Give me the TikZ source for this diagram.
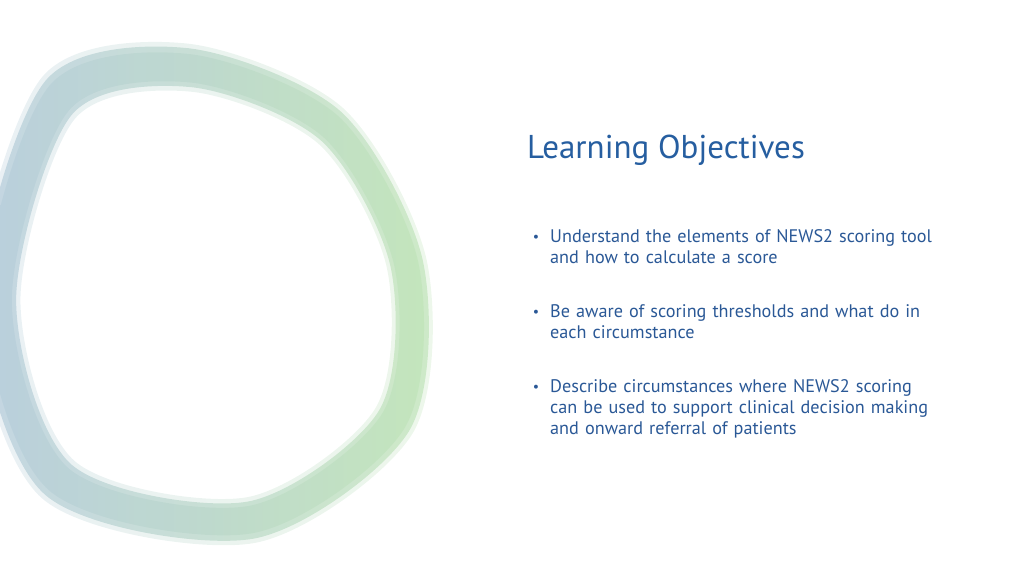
\documentclass[tikz,border=0pt]{standalone}
\usepackage{fontspec}
\setmainfont{PT Sans}
\usetikzlibrary{positioning}
\definecolor{titleblue}{RGB}{38,94,160}
\definecolor{textblue}{RGB}{42,88,150}
\definecolor{ringgreen}{RGB}{184,224,176}
\definecolor{ringblue}{RGB}{170,196,214}
\tikzset{
bullet/.style={anchor=north west,text width=420pt,align=left,font=\fontsize{18.2pt}{21pt}\selectfont,text=textblue,inner sep=0pt},
dot/.style={anchor=center,font=\fontsize{14pt}{21pt}\selectfont,text=textblue,inner sep=0pt}
}
\newcommand{\ringpath}[1]{%
plot[smooth cycle] coordinates {({215+#1*(60-215)},{576-(300+#1*(100-300))})
({215+#1*(190-215)},{576-(300+#1*(70-300))})
({215+#1*(330-215)},{576-(300+#1*(128-300))})
({215+#1*(405-215)},{576-(300+#1*(265-300))})
({215+#1*(392-215)},{576-(300+#1*(420-300))})
({215+#1*(250-215)},{576-(300+#1*(518-300))})
({215+#1*(60-215)},{576-(300+#1*(478-300))})
({215+#1*(0-215)},{576-(300+#1*(300-300))})}}
\begin{document}
\begin{tikzpicture}[x=1pt,y=1pt]
\useasboundingbox (0,0) rectangle (1024,576);
\begin{scope}
\clip (0,0) rectangle (1024,576);
% ring layers
\path[even odd rule,left color=ringblue!50!white,right color=ringgreen!50!white,opacity=0.5] \ringpath{1.115} \ringpath{0.905};
\path[even odd rule,left color=ringblue,right color=ringgreen,opacity=0.6] \ringpath{1.095} \ringpath{0.925};
\path[even odd rule,left color=ringblue!85!white,right color=ringgreen!90!white,opacity=0.7] \ringpath{1.07} \ringpath{0.945};
\end{scope}
% text
\node[anchor=west,text=titleblue,font=\fontsize{33pt}{36pt}\selectfont,inner sep=0pt] (title) at (527,426) {Learning Objectives};
\node[bullet] (b1) at (550,347) {Understand the elements of NEWS2 scoring tool\\and how to calculate a score};
\node[dot] (d1) at (536,338) {•};
\node[bullet] (b2) at (550,272) {Be aware of scoring thresholds and what do in\\each circumstance};
\node[dot] (d2) at (536,263) {•};
\node[bullet] (b3) at (550,197) {Describe circumstances where NEWS2 scoring\\can be used to support clinical decision making\\and onward referral of patients};
\node[dot] (d3) at (536,188) {•};
\end{tikzpicture}
\end{document}
